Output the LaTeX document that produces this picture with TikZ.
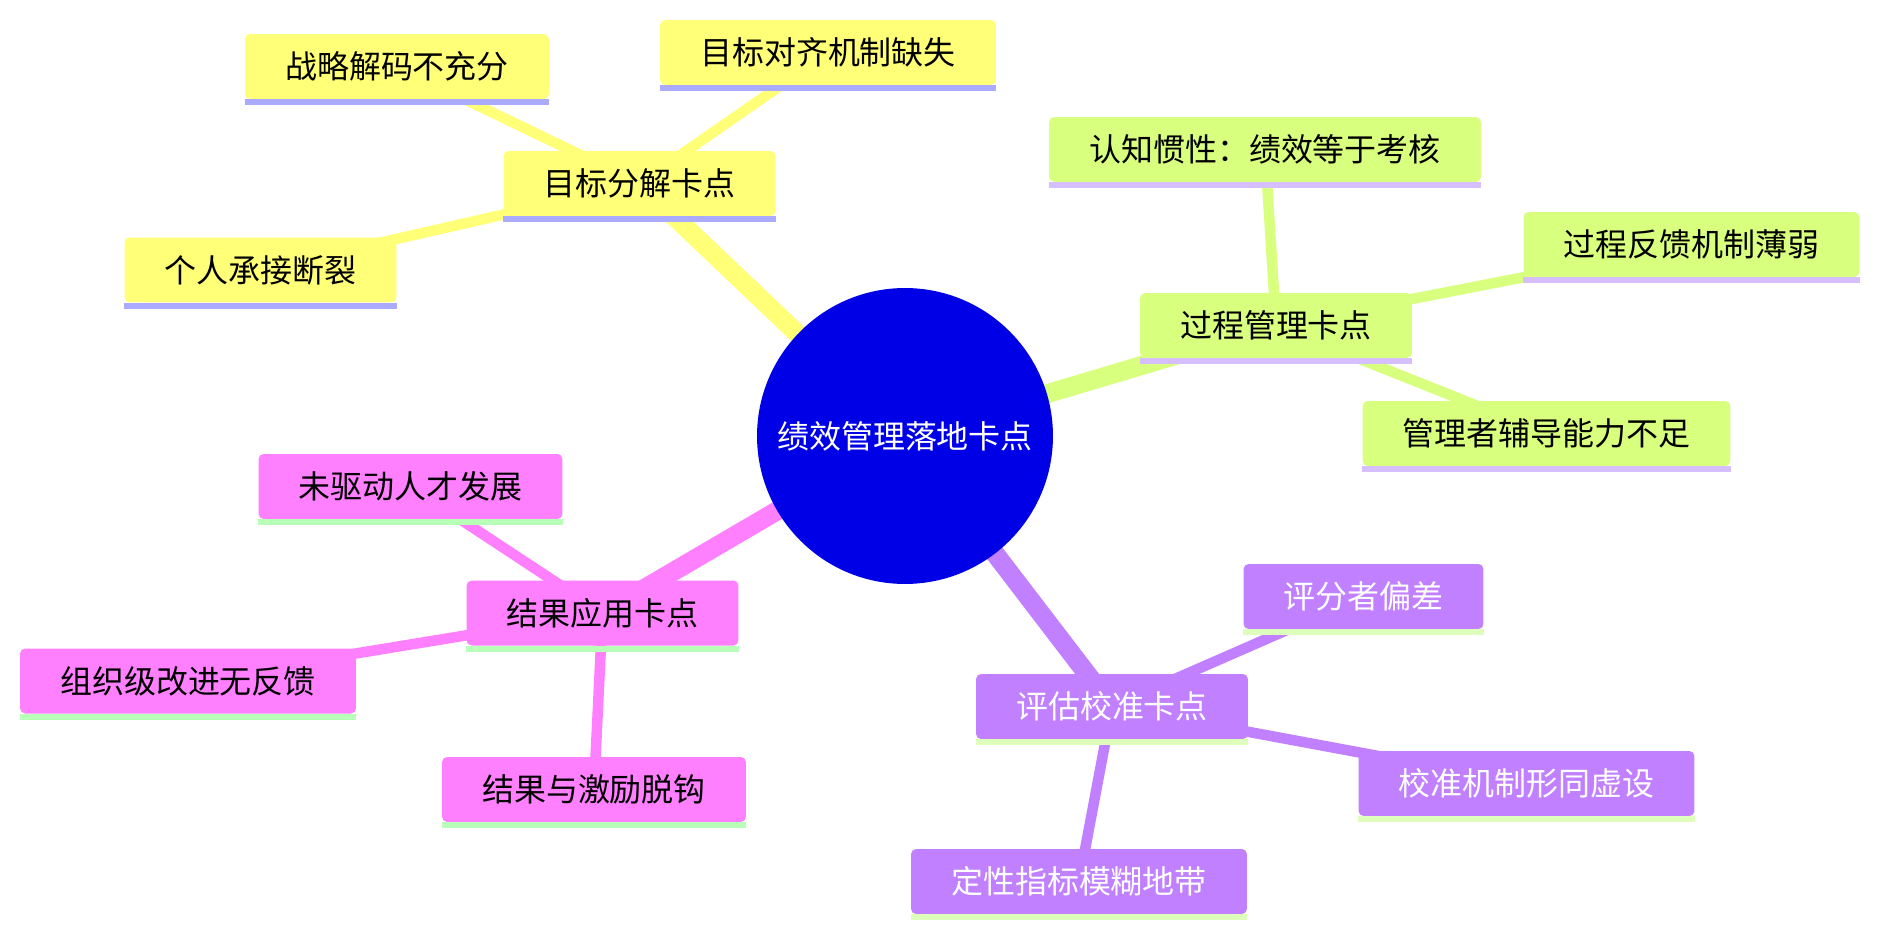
\documentclass[tikz,border=0pt]{standalone}
\usepackage{fontspec}
\setmainfont{Noto Sans CJK SC}
\usetikzlibrary{backgrounds}

\definecolor{rootblue}{HTML}{0000E6}
\definecolor{yellowbox}{HTML}{FFFF78}
\definecolor{yellowline}{HTML}{AAAAFF}
\definecolor{greenbox}{HTML}{D9FF7F}
\definecolor{greenline}{HTML}{D5BFFF}
\definecolor{purplebox}{HTML}{C080FF}
\definecolor{purpleline}{HTML}{DDFFBB}
\definecolor{pinkbox}{HTML}{FF80FF}
\definecolor{pinkline}{HTML}{B8FFB8}

\tikzset{
    topic/.style={rounded corners=0.1cm, inner xsep=0.8cm, inner ysep=0pt,
        minimum height=1.3cm, font=\fontsize{18.2}{22}\selectfont},
    ybox/.style={topic, fill=yellowbox, text=black},
    gbox/.style={topic, fill=greenbox, text=black},
    pbox/.style={topic, fill=purplebox, text=white},
    kbox/.style={topic, fill=pinkbox, text=black},
    trunk/.style={line width=0.38cm},
    twig/.style={line width=0.21cm}
}

\begin{document}
\begin{tikzpicture}[x=0.02cm, y=-0.02cm]
    \useasboundingbox (0,0) rectangle (1879,936);

    % Root
    \node[circle, fill=rootblue, text=white, minimum size=5.92cm, inner sep=0pt,
        font=\fontsize{18.2}{22}\selectfont] (root) at (905,436) {绩效管理落地卡点};

    % Goal decomposition
    \node[ybox] (goal) at (639.5,183.5) {目标分解卡点};
    \node[ybox] (goalA) at (397,66.5) {战略解码不充分};
    \node[ybox] (goalB) at (828,52.5) {目标对齐机制缺失};
    \node[ybox] (goalC) at (260.5,270) {个人承接断裂};

    % Process management
    \node[gbox] (proc) at (1276,325.5) {过程管理卡点};
    \node[gbox] (procA) at (1265,149.5) {认知惯性：绩效等于考核};
    \node[gbox] (procB) at (1691.5,244.5) {过程反馈机制薄弱};
    \node[gbox] (procC) at (1546.5,433.5) {管理者辅导能力不足};

    % Evaluation and calibration
    \node[pbox] (eval) at (1112,706.5) {评估校准卡点};
    \node[pbox] (evalA) at (1363.5,596.5) {评分者偏差};
    \node[pbox] (evalB) at (1526.5,783.5) {校准机制形同虚设};
    \node[pbox] (evalC) at (1079,881.5) {定性指标模糊地带};

    % Result application
    \node[kbox] (res) at (602.5,613) {结果应用卡点};
    \node[kbox] (resA) at (410.5,486.5) {未驱动人才发展};
    \node[kbox] (resB) at (188,681) {组织级改进无反馈};
    \node[kbox] (resC) at (594,789.5) {结果与激励脱钩};

    % Underlines
    \foreach \n/\c in {goal/yellowline, goalA/yellowline, goalB/yellowline, goalC/yellowline,
        proc/greenline, procA/greenline, procB/greenline, procC/greenline,
        eval/purpleline, evalA/purpleline, evalB/purpleline, evalC/purpleline,
        res/pinkline, resA/pinkline, resB/pinkline, resC/pinkline}
        \fill[\c] (\n.south west) rectangle ([yshift=-0.12cm]\n.south east);

    % Branches
    \begin{scope}[on background layer]
        \draw[trunk, yellowbox] (root.center) -- (goal.center);
        \draw[trunk, greenbox] (root.center) -- (proc.center);
        \draw[trunk, purplebox] (root.center) -- (eval.center);
        \draw[trunk, pinkbox] (root.center) -- (res.center);
        \foreach \a/\b/\c in {goal/goalA/yellowbox, goal/goalB/yellowbox, goal/goalC/yellowbox,
            proc/procA/greenbox, proc/procB/greenbox, proc/procC/greenbox,
            eval/evalA/purplebox, eval/evalB/purplebox, eval/evalC/purplebox,
            res/resA/pinkbox, res/resB/pinkbox, res/resC/pinkbox}
            \draw[twig, \c] (\a.center) -- (\b.center);
    \end{scope}
\end{tikzpicture}
\end{document}
